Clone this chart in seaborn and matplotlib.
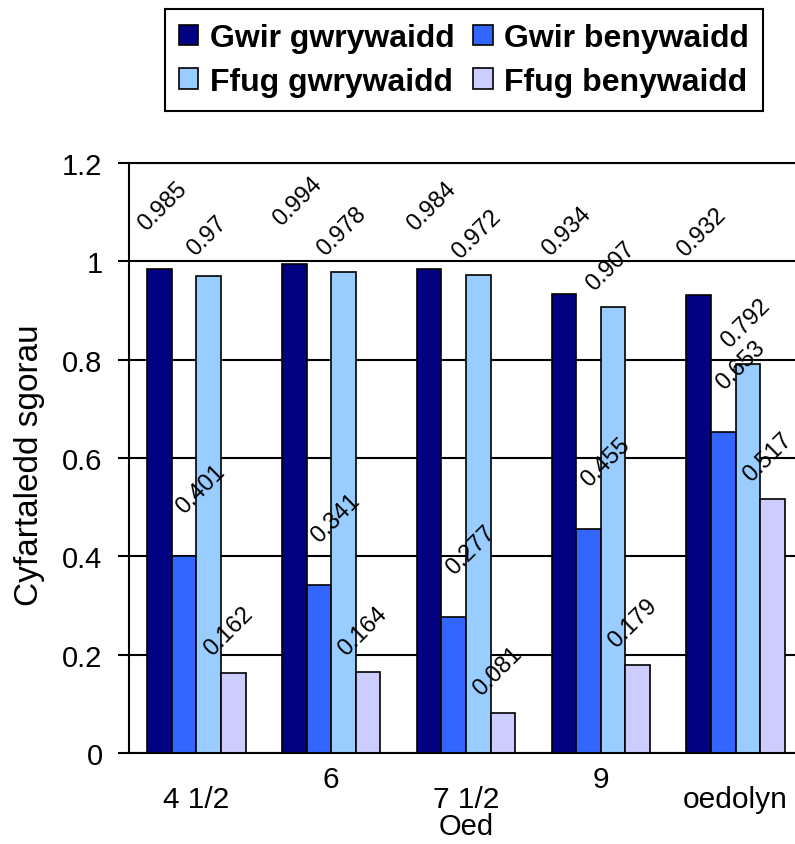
import matplotlib
matplotlib.use("Agg")
import matplotlib.pyplot as plt
import seaborn as sns
import pandas as pd
from matplotlib.ticker import FuncFormatter, MultipleLocator
from matplotlib.transforms import ScaledTranslation

# ---- data ----
categories = ["4 1/2", "6", "7 1/2", "9", "oedolyn"]
series_names = ["Gwir gwrywaidd", "Gwir benywaidd", "Ffug gwrywaidd", "Ffug benywaidd"]
gwir_gwrywaidd = [0.985, 0.994, 0.984, 0.934, 0.932]
gwir_benywaidd = [0.401, 0.341, 0.277, 0.455, 0.653]
ffug_gwrywaidd = [0.97, 0.978, 0.972, 0.907, 0.792]
ffug_benywaidd = [0.162, 0.164, 0.081, 0.179, 0.517]
x_title = "Oed"
y_title = "Cyfartaledd sgorau"

series_values = [gwir_gwrywaidd, gwir_benywaidd, ffug_gwrywaidd, ffug_benywaidd]
rows = []
for name, vals in zip(series_names, series_values):
    for cat, v in zip(categories, vals):
        rows.append({"Oed": cat, "score": v, "series": name})
df = pd.DataFrame(rows)

# ---- style ----
colors = ["#000080", "#3366FF", "#99CCFF", "#CCCCFF"]
label_offsets = [(3, 63), (17, 67), (-2, 41), (-5, 42)]  # pixels

sns.set_style("white")
plt.rcParams["font.family"] = ["Liberation Sans", "DejaVu Sans"]
for key in ["text.color", "axes.labelcolor", "xtick.color", "ytick.color"]:
    plt.rcParams[key] = "black"

fig = plt.figure(figsize=(7.95, 8.45), dpi=100)
ax = fig.add_axes([129 / 795, 1 - 754 / 845, 674 / 795, 590 / 845])

sns.barplot(data=df, x="Oed", y="score", hue="series", order=categories,
            hue_order=series_names, palette=colors, saturation=1, width=0.73,
            edgecolor="black", linewidth=1.2, ax=ax, errorbar=None)

handles, labels = ax.get_legend_handles_labels()
if ax.get_legend() is not None:
    ax.get_legend().remove()

# data labels
for container, vals, (dx, dy) in zip(ax.containers, series_values, label_offsets):
    for bar, v in zip(container, vals):
        ax.annotate(f"{v:g}", (bar.get_x() + bar.get_width() / 2, bar.get_height()),
                    xytext=(dx, dy), textcoords="offset pixels", rotation=45,
                    ha="center", va="center", fontsize=17, color="black")

ax.set_ylim(0, 1.2)
ax.set_xlim(-0.5, len(categories) - 0.5)
ax.yaxis.set_major_locator(MultipleLocator(0.2))
ax.yaxis.set_major_formatter(FuncFormatter(lambda v, p: f"{round(v, 1):g}"))
ax.yaxis.grid(True, color="black", linewidth=1.5)
ax.xaxis.grid(False)
ax.set_axisbelow(True)
for s in ax.spines.values():
    s.set_color("black")
    s.set_linewidth(1.5)

ax.tick_params(axis="y", direction="out", length=8, width=1.5, color="black",
               labelsize=21, pad=11, left=True)
ax.tick_params(axis="x", length=0, labelsize=21.5, pad=9)

ax.set_xticks(range(len(categories)))
ax.set_xticklabels(categories)
for i, lab in enumerate(ax.get_xticklabels()):
    if i % 2 == 0:
        lab.set_transform(lab.get_transform() + ScaledTranslation(0, -20 / 100, fig.dpi_scale_trans))

ax.set_xlabel(x_title, fontsize=21)
ax.set_ylabel(y_title, fontsize=24)
ax.xaxis.set_label_coords(0.5, -0.1)
ax.yaxis.set_label_coords((45 - 129) / 674, 0.49)

# legend, filled row by row
order = [0, 2, 1, 3]
leg = fig.legend([handles[i] for i in order], [labels[i] for i in order], ncol=2,
                 loc="upper center", bbox_to_anchor=(464 / 795, 1 - 10 / 845),
                 prop={"weight": "bold", "size": 23}, frameon=True,
                 fancybox=False, edgecolor="black", framealpha=1,
                 handlelength=0.6, handleheight=0.6, handletextpad=0.35,
                 columnspacing=0.6, borderpad=0.45, labelspacing=0.42,
                 borderaxespad=0)
leg.get_frame().set_linewidth(1.5)

fig.savefig("out.png", dpi=100)
